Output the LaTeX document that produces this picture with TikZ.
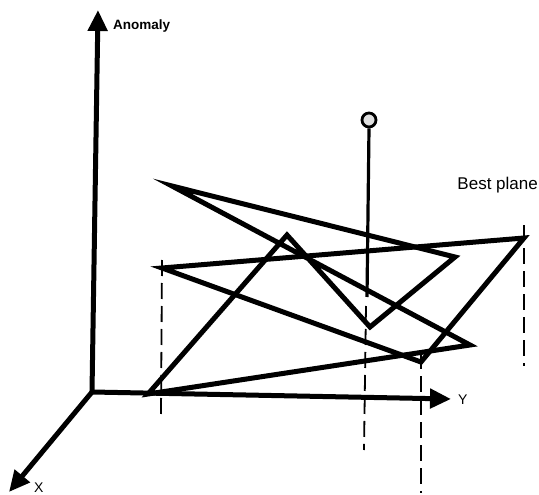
\documentclass[tikz,border=0pt]{standalone}
\usepackage{fontspec}
\setmainfont{Liberation Sans}
\usetikzlibrary{arrows.meta}
\begin{document}
\begin{tikzpicture}[x=1pt,y=-1pt,
  axis/.style={line width=5pt,-{Triangle[length=21pt,width=19pt]}},
  edge/.style={line width=5pt,line join=miter},
  drop/.style={line width=1.8pt,dash pattern=on 16pt off 7pt},
  lbl/.style={inner sep=0pt,font=\fontsize{14}{14}\selectfont}]
\useasboundingbox (0,0) rectangle (539,495);
% axes
\coordinate (O) at (92,392);
\coordinate (Ztip) at (98,10);
\coordinate (Ytip) at (451,399);
\coordinate (Xtip) at (9,492);
\draw[axis] (O) -- (Ztip);
\draw[axis] (O) -- (Ytip);
\draw[axis] (O) -- (Xtip);
\node[lbl,anchor=west,font=\bfseries\fontsize{13.5}{14}\selectfont] (anom) at (113,26) {Anomaly};
\node[lbl,anchor=west] (ylab) at (458,400) {Y};
\node[lbl,anchor=west] (xlab) at (34,488) {X};
% zigzag surface
\coordinate (A) at (172,186);
\coordinate (B) at (455,257);
\coordinate (C) at (370,327);
\coordinate (D) at (287,235);
\coordinate (E) at (148,394);
\coordinate (I) at (470,345);
\draw[edge] (A) -- (B) -- (C) -- (D) -- (E) -- (I) -- cycle;
% best plane triangle
\coordinate (H) at (162,268);
\coordinate (F) at (421,362);
\coordinate (G) at (524,238);
\draw[edge] (H) -- (F) -- (G) -- cycle;
\node[lbl,anchor=south east,font=\fontsize{17}{17}\selectfont] (bp) at (538,193) {Best plane};
% drop lines
\coordinate (Hb) at (161,414);
\coordinate (Fb) at (421,493);
\coordinate (Gb) at (524,366);
\draw[drop] ([yshift=8pt]H) -- (Hb);
\draw[drop] ([yshift=9pt]F) -- (Fb);
\draw[drop] ([yshift=13pt]G) -- (Gb);
% pole with ball
\node[circle,draw,line width=2.8pt,fill=black!12,minimum size=14pt,inner sep=0pt] (ball) at (369,120) {};
\coordinate (P1) at (367,297);
\coordinate (P2) at (366,306);
\coordinate (P3) at (364,450);
\draw[line width=3.2pt] (ball.south) -- (P1);
\draw[drop] (P2) -- (P3);
\end{tikzpicture}
\end{document}
